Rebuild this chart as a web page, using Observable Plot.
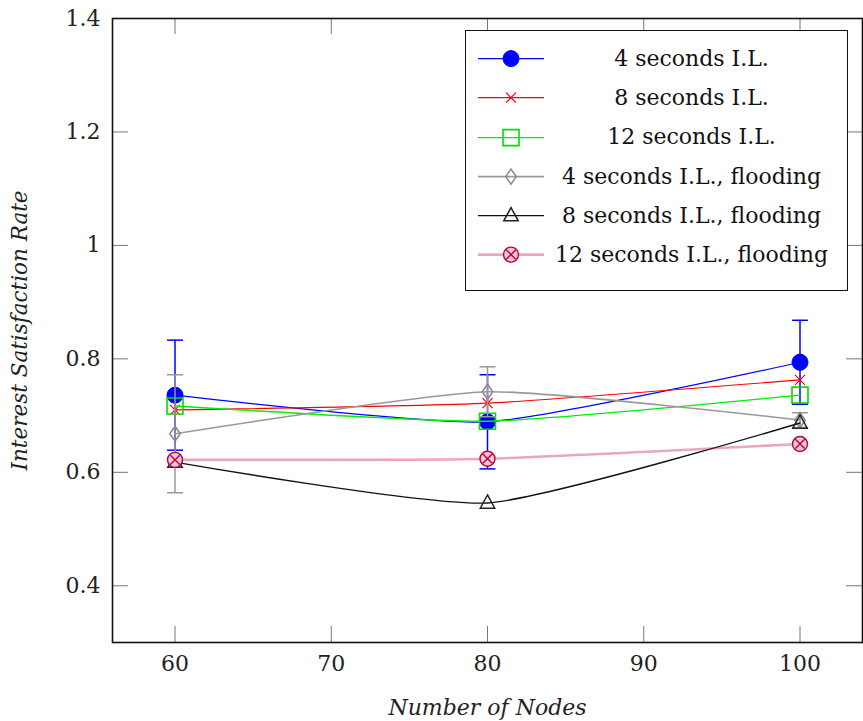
<!DOCTYPE html>
<html>
<head>
<meta charset="utf-8">
<script src="https://cdn.jsdelivr.net/npm/d3@7"></script>
<script src="https://cdn.jsdelivr.net/npm/@observablehq/plot@0.6"></script>
<style>
  body { margin: 0; background: #fff; }
  #wrap { position: relative; width: 863px; height: 721px; overflow: hidden; }
  #wrap svg text { font-family: "DejaVu Serif", "Liberation Serif", serif; }
  #legend {
    position: absolute; left: 465px; top: 30px; width: 381px; height: 251px;
    border: 1.6px solid #111; background: #fff; box-sizing: content-box;
    font-family: "DejaVu Serif", "Liberation Serif", serif; font-size: 22px; color: #111;
    padding-top: 8px;
  }
  .row { position: relative; height: 39.3px; }
  .row svg { position: absolute; left: 0; top: 0; }
  .row span { position: absolute; left: 70px; right: 0; text-align: center; top: 50%; transform: translateY(-53%); white-space: nowrap; }
</style>
</head>
<body>
<div id="wrap"></div>
<script>
// ---- data ----
const nodes = [60, 80, 100];
const seriesNames = [
  "4 seconds I.L.",
  "8 seconds I.L.",
  "12 seconds I.L.",
  "4 seconds I.L., flooding",
  "8 seconds I.L., flooding",
  "12 seconds I.L., flooding"
];
const il4 = [0.736, 0.689, 0.794];
const il4Err = [0.097, 0.083, 0.074];
const il8 = [0.710, 0.722, 0.763];
const il12 = [0.717, 0.690, 0.736];
const il4Flood = [0.668, 0.742, 0.692];
const il4FloodErr = [0.104, 0.044, 0.013];
const il8Flood = [0.618, 0.546, 0.687];
const il12Flood = [0.622, 0.624, 0.650];
const xTicks = [60, 70, 80, 90, 100];
const yTicks = [0.4, 0.6, 0.8, 1, 1.2, 1.4];
const xLabel = "Number of Nodes";
const yLabel = "Interest Satisfaction Rate";

// ---- custom marker symbols ----
const rad = s => Math.sqrt(s / Math.PI);
const symHBar = {draw(c, s) { const r = rad(s); c.moveTo(-r, 0); c.lineTo(r, 0); }};
const symSquare = {draw(c, s) { const r = rad(s); c.rect(-r, -r, 2 * r, 2 * r); }};
const symTimes = {draw(c, s) { const r = rad(s); c.moveTo(-r, -r); c.lineTo(r, r); c.moveTo(r, -r); c.lineTo(-r, r); }};
const symDiamond = {draw(c, s) { const r = rad(s); c.moveTo(0, -r); c.lineTo(0.7 * r, 0); c.lineTo(0, r); c.lineTo(-0.7 * r, 0); c.closePath(); }};
const symTriangle = {draw(c, s) { const r = rad(s); c.moveTo(0, -r); c.lineTo(0.9 * r, 0.65 * r); c.lineTo(-0.9 * r, 0.65 * r); c.closePath(); }};
const symOtimes = {draw(c, s) { const r = rad(s); c.moveTo(r, 0); c.arc(0, 0, r, 0, 2 * Math.PI); const k = r * 0.62; c.moveTo(-k, -k); c.lineTo(k, k); c.moveTo(k, -k); c.lineTo(-k, k); }};
const symCircle = {draw(c, s) { const r = rad(s); c.moveTo(r, 0); c.arc(0, 0, r, 0, 2 * Math.PI); }};

const series = [
  {name: seriesNames[0], values: il4, err: il4Err, stroke: "#0000ff", lineWidth: 1.2, lineOpacity: 1, sym: symCircle, r: 8, fill: "#0000ff", mStroke: "#0000ff", mWidth: 1},
  {name: seriesNames[1], values: il8, err: null, stroke: "#ff0000", lineWidth: 1.2, lineOpacity: 1, sym: symTimes, r: 5, fill: "none", mStroke: "#ff0000", mWidth: 1.2},
  {name: seriesNames[2], values: il12, err: null, stroke: "#00ee00", lineWidth: 1.4, lineOpacity: 1, sym: symSquare, r: 8, fill: "none", mStroke: "#00dd00", mWidth: 1.6},
  {name: seriesNames[3], values: il4Flood, err: il4FloodErr, stroke: "#999999", lineWidth: 1.6, lineOpacity: 1, sym: symDiamond, r: 7.5, fill: "none", mStroke: "#888888", mWidth: 1.5},
  {name: seriesNames[4], values: il8Flood, err: null, stroke: "#111111", lineWidth: 1.4, lineOpacity: 1, sym: symTriangle, r: 8, fill: "none", mStroke: "#222222", mWidth: 1.5},
  {name: seriesNames[5], values: il12Flood, err: null, stroke: "#bf0040", lineWidth: 2.6, lineOpacity: 0.35, sym: symOtimes, r: 7.5, fill: "#f0c8d4", mStroke: "#bf0040", mWidth: 1.4}
];

const W = 863, H = 721;
const mL = 112, mT = 18, mR = 1, mB = 79;
const innerW = W - mL - mR, innerH = H - mT - mB;
const tickLen = 16;

const marks = [];
for (const s of series) {
  const rows = nodes.map((x, i) => ({x, y: s.values[i], e: s.err ? s.err[i] : 0}));
  if (s.err) {
    marks.push(Plot.ruleX(rows, {x: "x", y1: d => d.y - d.e, y2: d => d.y + d.e, stroke: s.stroke, strokeWidth: 1.5}));
    marks.push(Plot.dot(rows, {x: "x", y: d => d.y - d.e, symbol: symHBar, r: 8, stroke: s.stroke, strokeWidth: 1.5, fill: "none"}));
    marks.push(Plot.dot(rows, {x: "x", y: d => d.y + d.e, symbol: symHBar, r: 8, stroke: s.stroke, strokeWidth: 1.5, fill: "none"}));
  }
  marks.push(Plot.line(rows, {x: "x", y: "y", stroke: s.stroke, strokeWidth: s.lineWidth, strokeOpacity: s.lineOpacity, curve: "cardinal", tension: 0.45}));
  marks.push(Plot.dot(rows, {x: "x", y: "y", symbol: s.sym, r: s.r, fill: s.fill, stroke: s.mStroke, strokeWidth: s.mWidth}));
}

const chart = Plot.plot({
  width: W, height: H,
  marginLeft: mL, marginTop: mT, marginRight: mR, marginBottom: mB,
  style: {fontFamily: "'DejaVu Serif', 'Liberation Serif', serif", fontSize: "22px", color: "#222", background: "#fff"},
  x: {domain: [56, 104]},
  y: {domain: [0.3, 1.4]},
  marks: [
    Plot.axisX(xTicks, {tickSize: 0, tickPadding: 13, label: null, tickFormat: d => String(d)}),
    Plot.axisY(yTicks, {tickSize: 0, tickPadding: 12, label: null, tickFormat: d => String(d)}),
    // inward ticks on all four sides
    Plot.tickX(xTicks, {x: d => d, insetTop: innerH - tickLen, stroke: "#777", strokeWidth: 1}),
    Plot.tickX(xTicks, {x: d => d, insetBottom: innerH - tickLen, stroke: "#777", strokeWidth: 1}),
    Plot.tickY(yTicks, {y: d => d, insetRight: innerW - tickLen, stroke: "#777", strokeWidth: 1}),
    Plot.tickY(yTicks, {y: d => d, insetLeft: innerW - tickLen, stroke: "#777", strokeWidth: 1}),
    ...marks,
    Plot.frame({stroke: "#111", strokeWidth: 1.6}),
    Plot.text([xLabel], {frameAnchor: "bottom", textAnchor: "middle", text: d => d, dy: 72, fontStyle: "italic", fontSize: 22}),
    Plot.text([yLabel], {frameAnchor: "left", textAnchor: "middle", text: d => d, dx: -92, rotate: -90, fontStyle: "italic", fontSize: 21.5})
  ]
});

const wrap = document.getElementById("wrap");
wrap.appendChild(chart);

// legend
const legend = document.createElement("div");
legend.id = "legend";
for (const s of series) {
  const row = document.createElement("div");
  row.className = "row";
  const p = d3.path();
  s.sym.draw(p, Math.PI * s.r * s.r);
  const cy = 19.6;
  row.innerHTML =
    `<svg width="80" height="39.3"><line x1="12" x2="78" y1="${cy}" y2="${cy}" stroke="${s.stroke}" stroke-width="${s.lineWidth}" stroke-opacity="${s.lineOpacity}"/>` +
    `<path transform="translate(45,${cy})" d="${p.toString()}" fill="${s.fill}" stroke="${s.mStroke}" stroke-width="${s.mWidth}"/></svg>` +
    `<span>${s.name}</span>`;
  legend.appendChild(row);
}
wrap.appendChild(legend);
</script>
</body>
</html>
